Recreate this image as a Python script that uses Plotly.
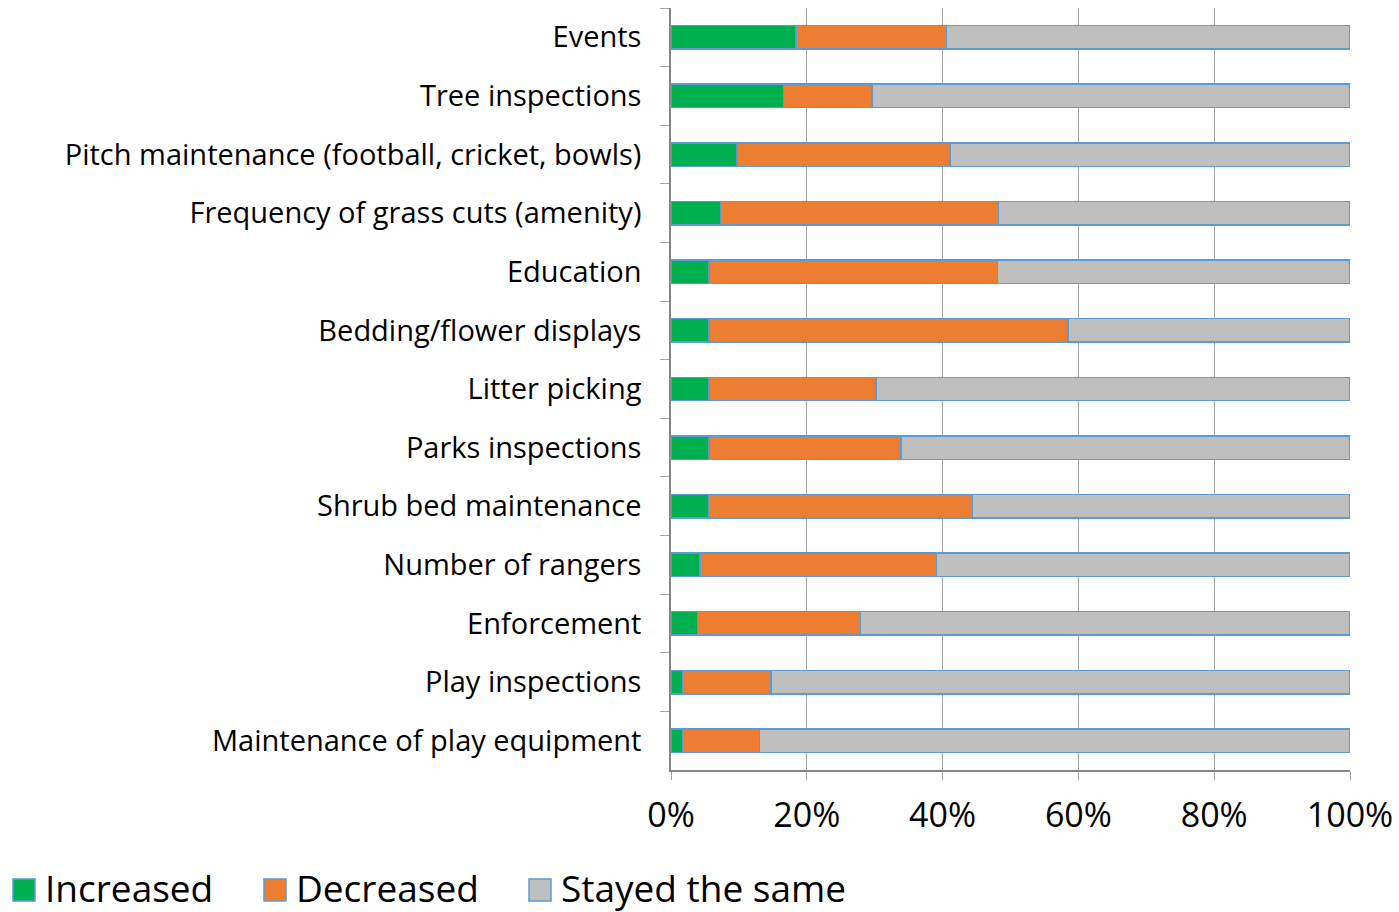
import plotly.graph_objects as go

# Service areas, listed top to bottom
categories = [
    "Events",
    "Tree inspections",
    "Pitch maintenance (football, cricket, bowls)",
    "Frequency of grass cuts (amenity)",
    "Education",
    "Bedding/flower displays",
    "Litter picking",
    "Parks inspections",
    "Shrub bed maintenance",
    "Number of rangers",
    "Enforcement",
    "Play inspections",
    "Maintenance of play equipment",
]

# Share of respondents (%) per change in service level
increased = [18.4, 16.6, 9.7, 7.3, 5.6, 5.6, 5.6, 5.6, 5.5, 4.3, 3.9, 1.7, 1.7]
decreased = [22.2, 13.0, 31.4, 40.9, 42.5, 52.9, 24.6, 28.3, 38.9, 34.8, 24.0, 13.0, 11.3]
stayed_same = [round(100 - a - b, 1) for a, b in zip(increased, decreased)]

tick_vals = [0, 20, 40, 60, 80, 100]
tick_text = ["0%", "20%", "40%", "60%", "80%", "100%"]

series_names = ["Increased", "Decreased", "Stayed the same"]
series_colors = ["#00B050", "#ED7D31", "#BFBFBF"]

FONT = "Open Sans"
OUTLINE = "#5B9BD5"

W, H = 1399, 912
ML, MR, MT, MB = 671, 49, 8, 142
PW, PH = W - ML - MR, H - MT - MB


def to_paper_x(px):
    return (px - ML) / PW


def to_paper_y(py):
    return (H - MB - py) / PH


fig = go.Figure()
for name, vals, color in zip(series_names, [increased, decreased, stayed_same], series_colors):
    fig.add_trace(go.Bar(
        y=categories,
        x=vals,
        name=name,
        orientation="h",
        marker=dict(color=color, line=dict(color=OUTLINE, width=1.5)),
        hoverinfo="x+y+name",
        showlegend=False,
    ))

# Legend row along the bottom edge: swatch + label per series
legend_swatch_left = [13, 264, 529]
swatch_size = 22
legend_mid_y = 890
shapes, annotations = [], []
for name, color, left in zip(series_names, series_colors, legend_swatch_left):
    shapes.append(dict(
        type="rect", xref="paper", yref="paper",
        x0=to_paper_x(left), x1=to_paper_x(left + swatch_size),
        y0=to_paper_y(legend_mid_y + swatch_size / 2),
        y1=to_paper_y(legend_mid_y - swatch_size / 2),
        fillcolor=color, line=dict(color=OUTLINE, width=1.5),
    ))
    annotations.append(dict(
        text=name, xref="paper", yref="paper",
        x=to_paper_x(left + swatch_size + 9), y=to_paper_y(legend_mid_y - 3),
        xanchor="left", yanchor="middle", showarrow=False, borderpad=0,
        font=dict(family=FONT, size=37, color="#000000"),
    ))

fig.update_layout(
    barmode="stack",
    bargap=0.6,
    width=W,
    height=H,
    margin=dict(l=ML, r=MR, t=MT, b=MB, autoexpand=False),
    paper_bgcolor="white",
    plot_bgcolor="white",
    font=dict(family=FONT, size=29, color="#000000"),
    showlegend=False,
    shapes=shapes,
    annotations=annotations,
    xaxis=dict(
        range=[0, 100],
        tickvals=tick_vals,
        ticktext=tick_text,
        showgrid=True,
        gridcolor="#A6A6A6",
        gridwidth=1,
        zeroline=False,
        showline=True,
        linecolor="#868686",
        linewidth=1.5,
        ticks="outside",
        ticklen=8,
        tickcolor="#A6A6A6",
        tickfont=dict(family=FONT, size=34),
        ticklabelstandoff=6,
        fixedrange=True,
    ),
    yaxis=dict(
        autorange="reversed",
        showline=True,
        linecolor="#868686",
        linewidth=1.5,
        ticks="outside",
        tickson="boundaries",
        ticklen=9,
        tickcolor="#A6A6A6",
        showgrid=False,
        tickfont=dict(family=FONT, size=29),
        ticklabelstandoff=22,
        fixedrange=True,
    ),
)

fig.write_html("out.html")
